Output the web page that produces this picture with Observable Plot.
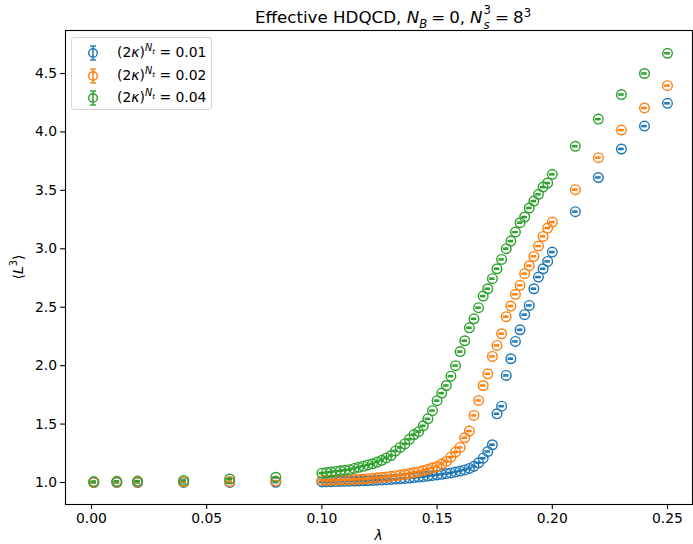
<!DOCTYPE html>
<html>
<head>
<meta charset="utf-8">
<script src="https://cdn.jsdelivr.net/npm/d3@7"></script>
<script src="https://cdn.jsdelivr.net/npm/@observablehq/plot@0.6"></script>
<style>
  html, body { margin: 0; padding: 0; background: #fff; }
  #wrap { position: relative; width: 693px; height: 544px; font-family: "DejaVu Sans", sans-serif; color: #000; }
  #wrap svg.plot { position: absolute; left: 0; top: 0; }
  .ov { position: absolute; white-space: nowrap; line-height: 1; }
  .title { font-size: 16.7px; left: 393px; top: 7px; transform: translateX(-50%); }
  .title .eq { margin: 0 4px; }
  .title .cm { margin-right: 5px; }
  .xlab { font-size: 13.9px; left: 378.5px; top: 529px; transform: translateX(-50%); font-style: italic; }
  .ylab { font-size: 13.9px; left: 19px; top: 267px; transform: translate(-50%, -50%) rotate(-90deg); }
  sub, sup { font-size: 70%; line-height: 0; }
  .ss { display: inline-flex; flex-direction: column; vertical-align: middle; font-size: 70%; line-height: 1; margin-left: 1px; }
  .ss .u { position: relative; top: -2px; }
  .ss .d { position: relative; top: 1px; font-style: italic; }
  #legend { position: absolute; left: 71px; top: 37px; width: 141px; height: 73px; border: 1px solid #d6d6d6; border-radius: 3px; background: rgba(255,255,255,0.8); box-sizing: border-box; }
  .lrow { position: absolute; left: 0; width: 139px; height: 20px; }
  .lrow svg { position: absolute; left: 10px; top: 0; }
  .lrow span { position: absolute; left: 45px; font-size: 13.9px; top: 3px; white-space: nowrap; line-height: 1; }
</style>
</head>
<body>
<div id="wrap"></div>
<script>
// ---------- data ----------
const lambdas = [
  0.001, 0.011, 0.020, 0.040, 0.060, 0.080,
  0.100, 0.102, 0.104, 0.106, 0.108, 0.110, 0.112, 0.114, 0.116, 0.118,
  0.120, 0.122, 0.124, 0.126, 0.128, 0.130, 0.132, 0.134, 0.136, 0.138,
  0.140, 0.142, 0.144, 0.146, 0.148, 0.150, 0.152, 0.154, 0.156, 0.158,
  0.160, 0.162, 0.164, 0.166, 0.168, 0.170, 0.172, 0.174, 0.176, 0.178,
  0.180, 0.182, 0.184, 0.186, 0.188, 0.190, 0.192, 0.194, 0.196, 0.198,
  0.200,
  0.210, 0.220, 0.230, 0.240, 0.250
];

const seriesLabels = ["0.01", "0.02", "0.04"];
const seriesColors = ["#1f77b4", "#ff7f0e", "#2ca02c"];

const L3_k001 = [
  1.000, 1.000, 1.000, 1.001, 1.001, 1.002,
  1.005, 1.006, 1.007, 1.008, 1.009, 1.010, 1.011, 1.012, 1.013, 1.015,
  1.016, 1.018, 1.020, 1.022, 1.024, 1.026, 1.029, 1.032, 1.035, 1.038,
  1.042, 1.046, 1.050, 1.055, 1.060, 1.065, 1.070, 1.076, 1.082, 1.090,
  1.098, 1.108, 1.120, 1.138, 1.168, 1.208, 1.265, 1.323, 1.588, 1.653,
  1.916, 2.059, 2.207, 2.307, 2.436, 2.515, 2.658, 2.758, 2.829, 2.892,
  2.972,
  3.318, 3.610, 3.854, 4.050, 4.245
];

const L3_k002 = [
  1.002, 1.003, 1.004, 1.006, 1.008, 1.012,
  1.018, 1.019, 1.020, 1.021, 1.022, 1.023, 1.024, 1.026, 1.028, 1.030,
  1.033, 1.036, 1.040, 1.044, 1.048, 1.053, 1.058, 1.064, 1.070, 1.077,
  1.085, 1.093, 1.102, 1.113, 1.126, 1.137, 1.160, 1.180, 1.217, 1.260,
  1.300, 1.383, 1.440, 1.574, 1.702, 1.830, 1.930, 2.079, 2.173, 2.273,
  2.419, 2.510, 2.610, 2.687, 2.787, 2.855, 2.935, 3.023, 3.106, 3.177,
  3.229,
  3.506, 3.780, 4.016, 4.205, 4.396
];

const L3_k004 = [
  1.008, 1.010, 1.012, 1.018, 1.030, 1.045,
  1.080, 1.085, 1.090, 1.095, 1.100, 1.105, 1.110, 1.120, 1.130, 1.140,
  1.150, 1.160, 1.175, 1.190, 1.210, 1.230, 1.270, 1.300, 1.330, 1.370,
  1.410, 1.435, 1.485, 1.545, 1.615, 1.700, 1.765, 1.830, 1.910, 2.000,
  2.120, 2.213, 2.324, 2.401, 2.496, 2.595, 2.658, 2.744, 2.829, 2.909,
  3.001, 3.066, 3.143, 3.223, 3.272, 3.349, 3.408, 3.466, 3.528, 3.563,
  3.637,
  3.877, 4.110, 4.320, 4.500, 4.673
];

// estimated (tiny) statistical errors
const L3_err = [0.005, 0.005, 0.005];

const xTicks = [0.00, 0.05, 0.10, 0.15, 0.20, 0.25];
const yTicks = [1.0, 1.5, 2.0, 2.5, 3.0, 3.5, 4.0, 4.5];

// ---------- build ----------
const allSeries = [L3_k001, L3_k002, L3_k004];
const tables = allSeries.map((vals, s) =>
  lambdas.map((x, i) => ({x, y: vals[i], e: L3_err[s], s}))
);

const capHalf = 0.0012; // cap half-width in lambda units
const marks = [];
tables.forEach((tbl, s) => {
  const c = seriesColors[s];
  marks.push(
    Plot.ruleX(tbl, {x: "x", y1: d => d.y - d.e, y2: d => d.y + d.e, stroke: c, strokeWidth: 1.5}),
    Plot.ruleY(tbl, {y: d => d.y - d.e, x1: d => d.x - capHalf, x2: d => d.x + capHalf, stroke: c, strokeWidth: 1.4}),
    Plot.ruleY(tbl, {y: d => d.y + d.e, x1: d => d.x - capHalf, x2: d => d.x + capHalf, stroke: c, strokeWidth: 1.4}),
    Plot.dot(tbl, {x: "x", y: "y", r: 4.8, stroke: c, fill: "none", strokeWidth: 1.4})
  );
});

const chart = Plot.plot({
  width: 693,
  height: 544,
  marginLeft: 65,
  marginRight: 1,
  marginTop: 30,
  marginBottom: 40,
  style: {fontFamily: "DejaVu Sans, sans-serif", fontSize: "13.9px", color: "#000", background: "transparent"},
  x: {domain: [-0.01128, 0.26085]},
  y: {domain: [0.8117, 4.868]},
  marks: [
    ...marks,
    Plot.axisX({ticks: xTicks, tickFormat: d => d.toFixed(2), tickSize: 4.9, tickPadding: 3.5, strokeWidth: 1.1, label: null, fontSize: 13.9}),
    Plot.axisY({ticks: yTicks, tickFormat: d => d.toFixed(1), tickSize: 4.9, tickPadding: 3.5, strokeWidth: 1.1, label: null, fontSize: 13.9}),
    Plot.frame({stroke: "#000", strokeWidth: 1.1})
  ]
});
chart.classList.add("plot");

const wrap = document.getElementById("wrap");
wrap.appendChild(chart);

function addDiv(cls, html) {
  const d = document.createElement("div");
  d.className = "ov " + cls;
  d.innerHTML = html;
  wrap.appendChild(d);
  return d;
}
addDiv("title", "Effective HDQCD, <i>N</i><sub><i>B</i></sub><span class=\"eq\">=</span>0<span class=\"cm\">,</span><i>N</i><span class=\"ss\"><span class=\"u\">3</span><span class=\"d\">s</span></span><span class=\"eq\">=</span>8<sup>3</sup>");
addDiv("xlab", "λ");
addDiv("ylab", "⟨<i>L</i><sup>3</sup>⟩");

// legend
const legend = document.createElement("div");
legend.id = "legend";
wrap.appendChild(legend);
seriesLabels.forEach((lab, s) => {
  const row = document.createElement("div");
  row.className = "lrow";
  row.style.top = (5 + s * 22.5) + "px";
  const c = seriesColors[s];
  row.innerHTML =
    `<svg width="22" height="20" viewBox="0 0 22 20">
       <line x1="11" y1="3" x2="11" y2="17" stroke="${c}" stroke-width="1.5"/>
       <line x1="8" y1="3" x2="14" y2="3" stroke="${c}" stroke-width="1.4"/>
       <line x1="8" y1="17" x2="14" y2="17" stroke="${c}" stroke-width="1.4"/>
       <circle cx="11" cy="10" r="4.3" fill="none" stroke="${c}" stroke-width="1.4"/>
     </svg>
     <span>(2<i>κ</i>)<sup><i>N</i><sub style="font-size:75%"><i>t</i></sub></sup> = ${lab}</span>`;
  legend.appendChild(row);
});
</script>
</body>
</html>
